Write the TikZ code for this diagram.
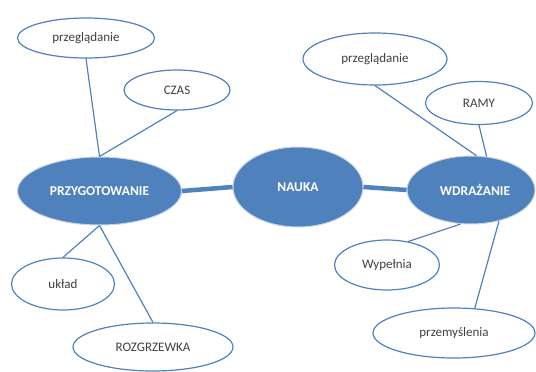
\documentclass[tikz,border=0pt]{standalone}
\usepackage{fontspec}
\setmainfont{Carlito}
\usetikzlibrary{shapes.geometric}
\definecolor{obl}{HTML}{4F81BD}
\definecolor{orim}{HTML}{C6D5EA}
\definecolor{txt}{HTML}{404040}
\tikzset{
  small/.style={ellipse, draw=obl, line width=1.2pt, fill=white, inner sep=0pt, text=txt, font=\fontsize{13}{15}\selectfont},
  big/.style={ellipse, draw=orim, line width=1pt, fill=obl, inner sep=0pt, text=white, font=\bfseries\fontsize{13.5}{15}\selectfont},
  thin/.style={draw=obl, line width=1.2pt},
  thick/.style={draw=obl, line width=4.5pt},
}
\begin{document}
\begin{tikzpicture}[x=1pt,y=-1pt]
\useasboundingbox (0,0) rectangle (536,372);
% nodes
\node[big, minimum width=164pt, minimum height=68pt] (prz) at (99.5,191) {PRZYGOTOWANIE};
\node[big, minimum width=130pt, minimum height=80pt] (nauka) at (298,187) {NAUKA};
\node[big, minimum width=128pt, minimum height=68pt] (wd) at (471,190) {\hspace*{8pt}WDRAŻANIE};
\node[small, minimum width=137pt, minimum height=40pt] (pl) at (86,38) {przeglądanie};
\node[small, minimum width=106pt, minimum height=40pt] (czas) at (177,90) {CZAS};
\node[small, minimum width=103pt, minimum height=52pt] (ukl) at (63,284) {układ};
\node[small, minimum width=160pt, minimum height=48pt] (roz) at (153,347) {ROZGRZEWKA};
\node[small, minimum width=144pt, minimum height=52pt] (pr) at (375,59) {przeglądanie};
\node[small, minimum width=107pt, minimum height=43pt] (ramy) at (479,103) {RAMY};
\node[small, minimum width=105pt, minimum height=50pt] (wyp) at (387,265) {Wypełnia};
\node[small, minimum width=162pt, minimum height=50pt] (przem) at (454,333) {przemyślenia};
% connectors
\draw[thin] (pl.south) -- (prz.north);
\draw[thin] (czas.south) -- (prz.north);
\draw[thin] (ukl.north) -- (prz.south);
\draw[thin] (roz.north) -- (prz.south);
\draw[thin] (pr.south) -- (wd.81);
\draw[thin] (ramy.south) -- (wd.65);
\draw[thin] (wyp.48) -- (wd.253);
\draw[thin] (przem.50) -- (wd.312);
\draw[thick] (prz.east) -- (nauka.west);
\draw[thick] (nauka.east) -- (wd.west);
\end{tikzpicture}
\end{document}
